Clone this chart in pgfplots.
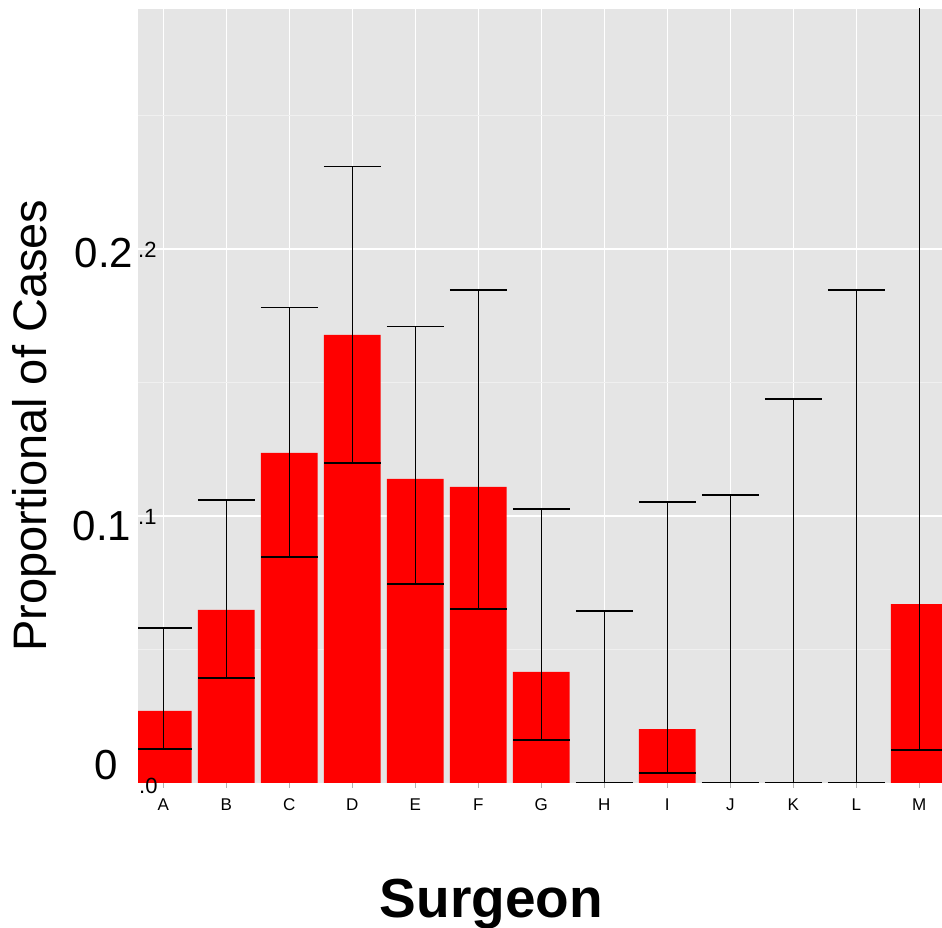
\documentclass[border=0pt]{standalone}
\usepackage{fontspec}
\setmainfont{Liberation Sans}
\usepackage{pgfplots}
\usepackage{pgfplotstable}
\pgfplotsset{compat=1.18}
\definecolor{panelgray}{HTML}{E5E5E5}
\definecolor{minorgrid}{HTML}{F0F0F0}
\pgfplotstableread{
x y ep em
1 0.0270 0.0310 0.0143
2 0.0648 0.0412 0.0255
3 0.1236 0.0544 0.0390
4 0.1678 0.0632 0.0479
5 0.1139 0.0571 0.0394
6 0.1109 0.0737 0.0457
7 0.0416 0.0610 0.0255
8 0.0000 0.0644 0.0000
9 0.0202 0.0850 0.0165
10 0.0000 0.1079 0.0000
11 0.0000 0.1438 0.0000
12 0.0000 0.1846 0.0000
13 0.0670 0.3300 0.0546
}\datatable
\begin{document}
\begin{tikzpicture}
\path[use as bounding box] (0,0) rectangle (942pt,928pt);
\begin{axis}[
  at={(138pt,145pt)}, anchor=south west,
  width=804pt, height=774pt, scale only axis,
  xmin=0.6, xmax=13.36, ymin=0, ymax=0.2899,
  axis background/.style={fill=panelgray},
  axis line style={draw=none},
  xtick={1,...,13},
  xticklabels={A,B,C,D,E,F,G,H,I,J,K,L,M},
  xticklabel style={font=\fontsize{17}{17}\selectfont, text=black, yshift=-7pt},
  xtick pos=bottom,
  ytick={0.1,0.2}, minor ytick={0.05,0.15,0.25},
  yticklabels={},
  xmajorgrids, ymajorgrids, yminorgrids,
  major grid style={white, line width=1.4pt},
  minor grid style={minorgrid, line width=0.8pt},
  tick align=outside,
  major tick length=5pt,
  xtick style={gray!60, line width=1pt},
  ytick style={draw=none},
  minor tick length=0pt,
]
\addplot[ybar, bar width=0.9, fill=red, draw=none,
  error bars/.cd, y dir=both, y explicit,
  error bar style={line width=1.3pt, black},
  error mark options={rotate=90, black, line width=1.3pt, mark size=28.35pt}]
  table[x=x, y=y, y error plus=ep, y error minus=em] {\datatable};
\end{axis}
\node[font=\fontsize{42}{42}\selectfont] at (104pt,675pt) {0.2};
\node[font=\fontsize{42}{42}\selectfont] at (102pt,402pt) {0.1};
\node[font=\fontsize{42}{42}\selectfont] at (106pt,162.5pt) {0};
\node[font=\fontsize{22}{22}\selectfont, anchor=west, inner sep=0pt] at (138pt,678pt) {.2};
\node[font=\fontsize{22}{22}\selectfont, anchor=west, inner sep=0pt] at (138pt,411.5pt) {.1};
\node[font=\fontsize{22}{22}\selectfont, anchor=west, inner sep=0pt] at (139pt,142pt) {.0};
\node[font=\bfseries\fontsize{55}{55}\selectfont, anchor=base] at (491.5pt,10pt) {Surgeon};
\node[font=\fontsize{47}{47}\selectfont, anchor=base, rotate=90] at (46pt,502.5pt) {Proportional of Cases};
\end{tikzpicture}
\end{document}
